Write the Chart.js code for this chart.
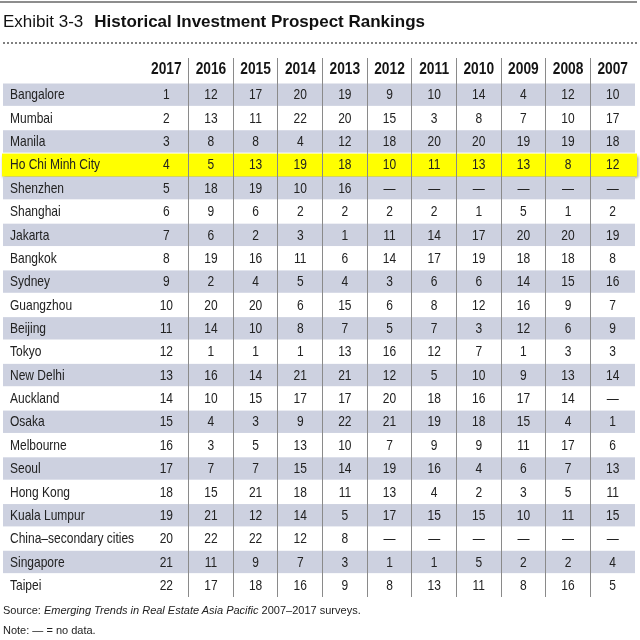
<!DOCTYPE html>
<html>
<head>
<meta charset="utf-8">
<script src="https://cdn.jsdelivr.net/npm/chart.js@4.4.1/dist/chart.umd.min.js"></script>
<style>
  body { margin: 0; background: #fff; }
  #wrap { position: relative; width: 640px; height: 640px; overflow: hidden; }
  #table { position: absolute; left: 0; top: 0; }
  .rule { position: absolute; left: 0; top: 1px; width: 637px; height: 2px; background: #8d8d8d; }
  .dots { position: absolute; left: 3px; top: 42px; width: 634px; border-top: 2px dotted #808080; }
  .title { position: absolute; left: 3px; top: 13px; margin: 0; font: 17px/17px "Liberation Sans", Arial, sans-serif; color: #111; white-space: nowrap; }
  .title b { margin-left: 11px; }
  .note { position: absolute; left: 3px; font: 11px/11px "Liberation Sans", Arial, sans-serif; color: #222; white-space: nowrap; }
</style>
</head>
<body>
<div id="wrap">
  <canvas id="table" width="640" height="640"></canvas>
  <div class="rule"></div>
  <div class="title">Exhibit 3-3<b>Historical Investment Prospect Rankings</b></div>
  <div class="dots"></div>
  <div class="note" style="top:605px">Source: <i>Emerging Trends in Real Estate Asia Pacific</i> 2007–2017 surveys.</div>
  <div class="note" style="top:625px">Note: — = no data.</div>
</div>
<script>
// ===== Data =====
const years = ["2017", "2016", "2015", "2014", "2013", "2012", "2011", "2010", "2009", "2008", "2007"];
const cities = [
  "Bangalore", "Mumbai", "Manila", "Ho Chi Minh City", "Shenzhen", "Shanghai",
  "Jakarta", "Bangkok", "Sydney", "Guangzhou", "Beijing", "Tokyo", "New Delhi",
  "Auckland", "Osaka", "Melbourne", "Seoul", "Hong Kong", "Kuala Lumpur",
  "China–secondary cities", "Singapore", "Taipei",
];
const highlightCity = "Ho Chi Minh City";

// ranks per survey year, same order as cities (null = no data)
const rank2017 = [1, 2, 3, 4, 5, 6, 7, 8, 9, 10, 11, 12, 13, 14, 15, 16, 17, 18, 19, 20, 21, 22];
const rank2016 = [12, 13, 8, 5, 18, 9, 6, 19, 2, 20, 14, 1, 16, 10, 4, 3, 7, 15, 21, 22, 11, 17];
const rank2015 = [17, 11, 8, 13, 19, 6, 2, 16, 4, 20, 10, 1, 14, 15, 3, 5, 7, 21, 12, 22, 9, 18];
const rank2014 = [20, 22, 4, 19, 10, 2, 3, 11, 5, 6, 8, 1, 21, 17, 9, 13, 15, 18, 14, 12, 7, 16];
const rank2013 = [19, 20, 12, 18, 16, 2, 1, 6, 4, 15, 7, 13, 21, 17, 22, 10, 14, 11, 5, 8, 3, 9];
const rank2012 = [9, 15, 18, 10, null, 2, 11, 14, 3, 6, 5, 16, 12, 20, 21, 7, 19, 13, 17, null, 1, 8];
const rank2011 = [10, 3, 20, 11, null, 2, 14, 17, 6, 8, 7, 12, 5, 18, 19, 9, 16, 4, 15, null, 1, 13];
const rank2010 = [14, 8, 20, 13, null, 1, 17, 19, 6, 12, 3, 7, 10, 16, 18, 9, 4, 2, 15, null, 5, 11];
const rank2009 = [4, 7, 19, 13, null, 5, 20, 18, 14, 16, 12, 1, 9, 17, 15, 11, 6, 3, 10, null, 2, 8];
const rank2008 = [12, 10, 19, 8, null, 1, 20, 18, 15, 9, 6, 3, 13, 14, 4, 17, 7, 5, 11, null, 2, 16];
const rank2007 = [10, 17, 18, 12, null, 2, 19, 8, 16, 7, 9, 3, 14, null, 1, 6, 13, 11, 15, null, 4, 5];

const series = [rank2017, rank2016, rank2015, rank2014, rank2013, rank2012, rank2011, rank2010, rank2009, rank2008, rank2007];

const FONT = '"Liberation Sans", Arial, sans-serif';
const TEXT = "#222";

// condensed text: no narrow face installed, so squeeze Liberation Sans
function narrowText(ctx, str, x, y, align, sx) {
  ctx.save();
  ctx.translate(x, y);
  ctx.scale(sx, 1);
  ctx.textAlign = align;
  ctx.fillText(str, 0, 0);
  ctx.restore();
}

// row bands + highlight, drawn under the grid lines
const rowBands = {
  id: "rowBands",
  beforeDraw(chart) {
    const { ctx, chartArea, scales } = chart;
    const y = scales.y;
    const h = (chartArea.bottom - chartArea.top) / cities.length;
    const left = y.left - 7;
    ctx.save();
    cities.forEach((c, i) => {
      const cy = y.getPixelForValue(i);
      if (c === highlightCity) {
        ctx.shadowColor = "rgba(0,0,0,0.45)";
        ctx.shadowBlur = 3;
        ctx.shadowOffsetX = 1;
        ctx.shadowOffsetY = 2;
        ctx.fillStyle = "#ffff00";
        ctx.fillRect(left - 1, cy - h / 2 + 0.5, chartArea.right - left + 3, h - 0.5);
        ctx.shadowColor = "transparent";
      } else if (i % 2 === 0) {
        ctx.fillStyle = "#cdd1e0";
        ctx.fillRect(left, cy - h / 2 + 0.5, chartArea.right - left, h - 1);
      }
    });
    ctx.restore();
  },
};

// year headers, city names and rank numbers
const cellText = {
  id: "cellText",
  afterDatasetsDraw(chart) {
    const { ctx, scales } = chart;
    ctx.save();
    ctx.textBaseline = "middle";

    ctx.fillStyle = "#151515";
    ctx.font = "bold 16px " + FONT;
    years.forEach((yr, j) => {
      narrowText(ctx, yr, scales.x.getPixelForValue(j), scales.x.bottom - 13, "center", 0.86);
    });

    ctx.fillStyle = TEXT;
    ctx.font = "15px " + FONT;
    cities.forEach((c, i) => {
      narrowText(ctx, c, scales.y.left, scales.y.getPixelForValue(i) + 0.5, "left", 0.8);
    });

    chart.data.datasets.forEach((ds, j) => {
      chart.getDatasetMeta(j).data.forEach((pt, i) => {
        const v = series[j][i];
        narrowText(ctx, v == null ? "—" : String(v), pt.x, pt.y + 0.5, "center", 0.8);
      });
    });
    ctx.restore();
  },
};

new Chart(document.getElementById("table"), {
  type: "scatter",
  data: {
    datasets: years.map((yr) => ({
      label: yr,
      data: cities.map((c) => ({ x: yr, y: c })),
      pointRadius: 0,
      pointHoverRadius: 0,
    })),
  },
  options: {
    responsive: false,
    animation: false,
    events: [],
    devicePixelRatio: 1,
    layout: { padding: { top: 57, left: 10, right: 5, bottom: 43 } },
    plugins: { legend: { display: false }, tooltip: { enabled: false } },
    scales: {
      x: {
        type: "category",
        labels: years,
        position: "top",
        offset: true,
        border: { display: false },
        grid: {
          offset: true,
          tickLength: 25,
          lineWidth: 1,
          color: (c) => (c.index > 0 ? "#8a8a8a" : "rgba(0,0,0,0)"),
        },
        ticks: { display: false, autoSkip: false },
        afterFit: (s) => { s.height = 26; },
      },
      y: {
        type: "category",
        labels: cities,
        offset: true,
        border: { display: false },
        grid: { display: false },
        ticks: { display: false, autoSkip: false },
        afterFit: (s) => { s.width = 134; },
      },
    },
  },
  plugins: [rowBands, cellText],
});
</script>
</body>
</html>
